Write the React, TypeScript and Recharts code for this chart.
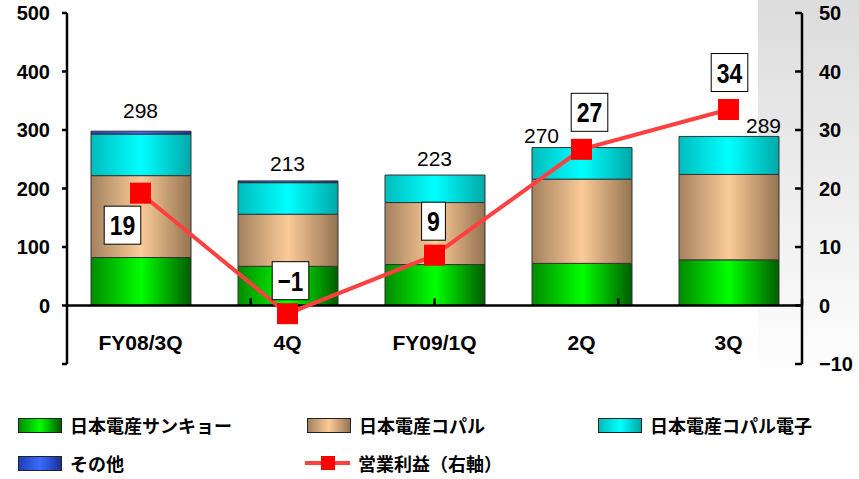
import React from "react";
import { ComposedChart, Bar, Line, XAxis, YAxis, ReferenceLine, LabelList } from "recharts";

const quarters = ["FY08/3Q", "4Q", "FY09/1Q", "2Q", "3Q"];
const sankyo = [82, 67, 70, 72, 78];
const copal = [140, 89, 106, 144, 146];
const copalDenshi = [71, 54, 47, 54, 65];
const others = [5, 3, 0, 0, 0];
const operatingProfit = [19.2, -1.4, 8.6, 26.7, 33.5];

const leftTicks = [-100, 0, 100, 200, 300, 400, 500];
const rightTicks = [-10, 0, 10, 20, 30, 40, 50];
const boundaries = [1, 2, 3, 4];

// label nudges, same as the hand-placed labels in the original slide
const totalOffsets = [
  { dx: 0, dy: -13 },
  { dx: 0, dy: -10 },
  { dx: 0, dy: -9 },
  { dx: -40, dy: -5 },
  { dx: 35, dy: -3 },
];
const profitOffsets = [
  { dx: -18, dy: 32 },
  { dx: 3, dy: -33 },
  { dx: -1, dy: -34 },
  { dx: 8, dy: -37 },
  { dx: 1, dy: -37 },
];

const series = [
  { key: "sankyo", name: "日本電産サンキョー", dark: "#008a00", light: "#00ff00", edge: "#005c00" },
  { key: "copal", name: "日本電産コパル", dark: "#a3825f", light: "#fbcb98", edge: "#947452" },
  { key: "copalDenshi", name: "日本電産コパル電子", dark: "#00bcbc", light: "#00ffff", edge: "#00a8a8" },
  { key: "others", name: "その他", dark: "#1d3fb8", light: "#3a6bff", edge: "#173194" },
];

const data = quarters.map((q, i) => ({
  name: q,
  sankyo: sankyo[i],
  copal: copal[i],
  copalDenshi: copalDenshi[i],
  others: others[i],
  total: sankyo[i] + copal[i] + copalDenshi[i] + others[i],
  profit: operatingProfit[i],
}));

const FONT = "'Liberation Sans', Arial, sans-serif";
const JP = "'Noto Sans CJK JP', sans-serif";

const fmt = (v: number) => (v < 0 ? `−${Math.abs(v)}` : `${v}`);

function LeftTick({ x, y, payload }: any) {
  if (payload.value === -100) return <g />;
  return (
    <text x={x} y={y} dy={7} textAnchor="end" fontSize={20} fontWeight="bold" fontFamily={FONT} fill="#000">
      {payload.value}
    </text>
  );
}

function RightTick({ x, y, payload }: any) {
  return (
    <text x={x} y={y} dy={7} textAnchor="start" fontSize={20} fontWeight="bold" fontFamily={FONT} fill="#000">
      {fmt(payload.value)}
    </text>
  );
}

function CategoryTick({ x, y, payload }: any) {
  return (
    <text x={x} y={y} dy={-14} textAnchor="middle" fontSize={21} fontWeight="bold" fontFamily={FONT} fill="#000">
      {payload.value}
    </text>
  );
}

function TotalLabel({ x, y, value, index }: any) {
  const o = totalOffsets[index];
  return (
    <text x={x + o.dx} y={y + o.dy} textAnchor="middle" fontSize={21} fontFamily={FONT} fill="#000">
      {value}
    </text>
  );
}

function ProfitLabel({ x, y, value, index }: any) {
  const o = profitOffsets[index];
  const txt = fmt(Math.round(value));
  const tw = txt.length * 12.8;
  const w = tw + 11;
  const cx = x + o.dx;
  const cy = y + o.dy;
  return (
    <g>
      <rect x={cx - w / 2} y={cy - 19} width={w} height={38} fill="#fff" stroke="#000" strokeWidth={1} />
      <text
        x={cx}
        y={cy + 10}
        textAnchor="middle"
        fontSize={28}
        fontWeight="bold"
        fontFamily={FONT}
        textLength={tw}
        lengthAdjust="spacingAndGlyphs"
        fill="#000"
      >
        {txt}
      </text>
    </g>
  );
}

function SquareDot({ cx, cy, index }: any) {
  return <rect key={index} x={cx - 10.5} y={cy - 10.5} width={21} height={21} fill="#ff0000" />;
}

function Legend() {
  const swatch = (s: any) => (
    <div
      style={{
        width: 42,
        height: 13,
        border: "1px solid #222",
        background: `linear-gradient(to right, ${s.dark}, ${s.light} 50%, ${s.edge})`,
      }}
    />
  );
  const item = (icon: React.ReactNode, label: string, left: number, top: number) => (
    <div key={label} style={{ position: "absolute", left, top, display: "flex", alignItems: "center", gap: 8 }}>
      {icon}
      <span style={{ fontFamily: JP, fontWeight: 700, fontSize: 18, color: "#000", lineHeight: "20px" }}>{label}</span>
    </div>
  );
  const lineIcon = (
    <div style={{ position: "relative", width: 45, height: 14 }}>
      <div style={{ position: "absolute", left: 0, top: 5, width: 45, height: 4, background: "#ff4040" }} />
      <div style={{ position: "absolute", left: 16, top: 0, width: 14, height: 14, background: "#ff0000" }} />
    </div>
  );
  return (
    <>
      {item(swatch(series[0]), series[0].name, 18, 415)}
      {item(swatch(series[1]), series[1].name, 307, 415)}
      {item(swatch(series[2]), series[2].name, 598, 415)}
      {item(swatch(series[3]), series[3].name, 18, 453)}
      {item(lineIcon, "営業利益（右軸）", 305, 453)}
    </>
  );
}

export default function App() {
  return (
    <div style={{ position: "absolute", left: 0, top: 0, width: 859, height: 479, background: "#fff", overflow: "hidden" }}>
      <div
        style={{
          position: "absolute",
          left: 758,
          top: 0,
          width: 101,
          height: 385,
          background: "linear-gradient(to bottom, #dcdcdc, #ffffff)",
        }}
      />
      <div style={{ position: "absolute", left: 0, top: 0 }}>
        <ComposedChart width={859} height={479} data={data} margin={{ top: 13, right: 0, bottom: 0, left: 0 }}>
          <defs>
            {series.map((s) => (
              <linearGradient key={s.key} id={`g-${s.key}`} x1="0" y1="0" x2="1" y2="0">
                <stop offset="0%" stopColor={s.dark} />
                <stop offset="50%" stopColor={s.light} />
                <stop offset="100%" stopColor={s.edge} />
              </linearGradient>
            ))}
          </defs>
          <XAxis
            dataKey="name"
            height={115}
            axisLine={false}
            tickLine={false}
            tickSize={0}
            tickMargin={0}
            tick={<CategoryTick />}
            interval={0}
          />
          <XAxis xAxisId="edge" type="number" domain={[0, 5]} hide />
          <YAxis
            yAxisId="left"
            domain={[-100, 500]}
            ticks={leftTicks}
            interval={0}
            width={67}
            axisLine={{ stroke: "#000", strokeWidth: 2.5 }}
            tickLine={{ stroke: "#000", strokeWidth: 2.5 }}
            tickSize={5}
            tickMargin={12}
            tick={<LeftTick />}
          />
          <YAxis
            yAxisId="right"
            orientation="right"
            domain={[-10, 50]}
            ticks={rightTicks}
            interval={0}
            width={57}
            axisLine={{ stroke: "#000", strokeWidth: 2.5 }}
            tickLine={{ stroke: "#000", strokeWidth: 2.5 }}
            tickSize={-7}
            tickMargin={24}
            tick={<RightTick />}
          />
          {series.map((s) => (
            <Bar
              key={s.key}
              dataKey={s.key}
              name={s.name}
              stackId="a"
              yAxisId="left"
              barSize={100}
              fill={`url(#g-${s.key})`}
              stroke="#333"
              strokeWidth={1}
              isAnimationActive={false}
            />
          ))}
          <ReferenceLine yAxisId="left" y={0} stroke="#000" strokeWidth={2.5} />
          {boundaries.map((b) => (
            <ReferenceLine
              key={b}
              xAxisId="edge"
              yAxisId="left"
              segment={[
                { x: b, y: 0 },
                { x: b, y: 12 },
              ]}
              stroke="#000"
              strokeWidth={2.5}
            />
          ))}
          <Line
            yAxisId="left"
            dataKey="total"
            stroke="none"
            dot={false}
            activeDot={false}
            legendType="none"
            isAnimationActive={false}
          >
            <LabelList dataKey="total" content={<TotalLabel />} />
          </Line>
          <Line
            yAxisId="right"
            dataKey="profit"
            name="営業利益（右軸）"
            stroke="#ff4040"
            strokeWidth={4}
            dot={<SquareDot />}
            activeDot={false}
            isAnimationActive={false}
          >
            <LabelList dataKey="profit" content={<ProfitLabel />} />
          </Line>
        </ComposedChart>
      </div>
      <Legend />
    </div>
  );
}
